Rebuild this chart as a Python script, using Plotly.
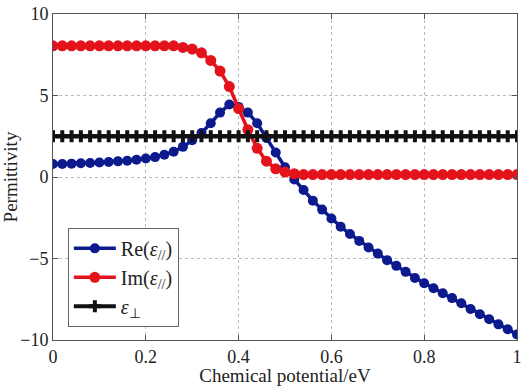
import plotly.graph_objects as go

x = [round(i * 0.02, 2) for i in range(51)]

re_eps = [0.80, 0.80, 0.82, 0.84, 0.86, 0.89, 0.92, 0.96, 1.00, 1.06,
          1.13, 1.22, 1.36, 1.55, 1.85, 2.25, 2.70, 3.30, 3.95, 4.45,
          4.30, 3.95, 3.30, 2.40, 1.50, 0.60, -0.15, -0.80, -1.45, -2.00,
          -2.55, -3.05, -3.50, -3.92, -4.32, -4.70, -5.10, -5.45, -5.82, -6.20,
          -6.52, -6.82, -7.13, -7.43, -7.75, -8.10, -8.42, -8.73, -9.04, -9.34,
          -9.66]

im_eps = [8.05] * 14 + [7.95, 7.85, 7.62, 7.15, 6.50, 5.55,
          4.20, 2.90, 1.76, 0.97, 0.50, 0.30, 0.20] + [0.15] * 24

perp_eps = [2.5] * 51

FONT = "Liberation Serif"
TXT = "#222222"

fig = go.Figure()
fig.add_trace(go.Scatter(
    x=x, y=re_eps, mode="lines+markers", name="Re(<i>ε</i><sub>//</sub>)",
    line=dict(color="#0c1a8e", width=3.5),
    marker=dict(color="#0c1a8e", size=10, symbol="circle")))
fig.add_trace(go.Scatter(
    x=x, y=im_eps, mode="lines+markers", name="Im(<i>ε</i><sub>//</sub>)",
    line=dict(color="#e3121b", width=3.5),
    marker=dict(color="#e3121b", size=11, symbol="circle")))
fig.add_trace(go.Scatter(
    x=x, y=perp_eps, mode="lines+markers", name="<i>ε</i><sub>⊥</sub>",
    line=dict(color="#111111", width=4),
    marker=dict(color="#111111", size=10, symbol="cross")))

axis_common = dict(
    showline=True, linecolor="#555555", linewidth=1, mirror="ticks",
    ticks="inside", ticklen=5, tickcolor="#555555",
    showgrid=True, gridcolor="#bbbbbb", griddash="dot", gridwidth=1,
    zeroline=False,
    tickfont=dict(family=FONT, size=18, color=TXT),
)

fig.update_xaxes(range=[0, 1], tickvals=[0, 0.2, 0.4, 0.6, 0.8, 1],
                 title=dict(text="Chemical potential/eV", standoff=0,
                            font=dict(family=FONT, size=19, color=TXT)),
                 **axis_common)
fig.update_yaxes(range=[-10, 10], tickvals=[-10, -5, 0, 5, 10],
                 title=dict(text="Permittivity", standoff=3,
                            font=dict(family=FONT, size=19, color=TXT)),
                 **axis_common)

fig.update_layout(
    width=526, height=386,
    margin=dict(l=52, r=4, t=14, b=46),
    paper_bgcolor="white", plot_bgcolor="white",
    showlegend=True,
    legend=dict(x=0.032, y=0.344, xanchor="left", yanchor="top",
                bgcolor="white", bordercolor="#666666", borderwidth=1,
                font=dict(family=FONT, size=20, color=TXT),
                itemwidth=42, tracegroupgap=0),
)

fig.write_html("out.html")
